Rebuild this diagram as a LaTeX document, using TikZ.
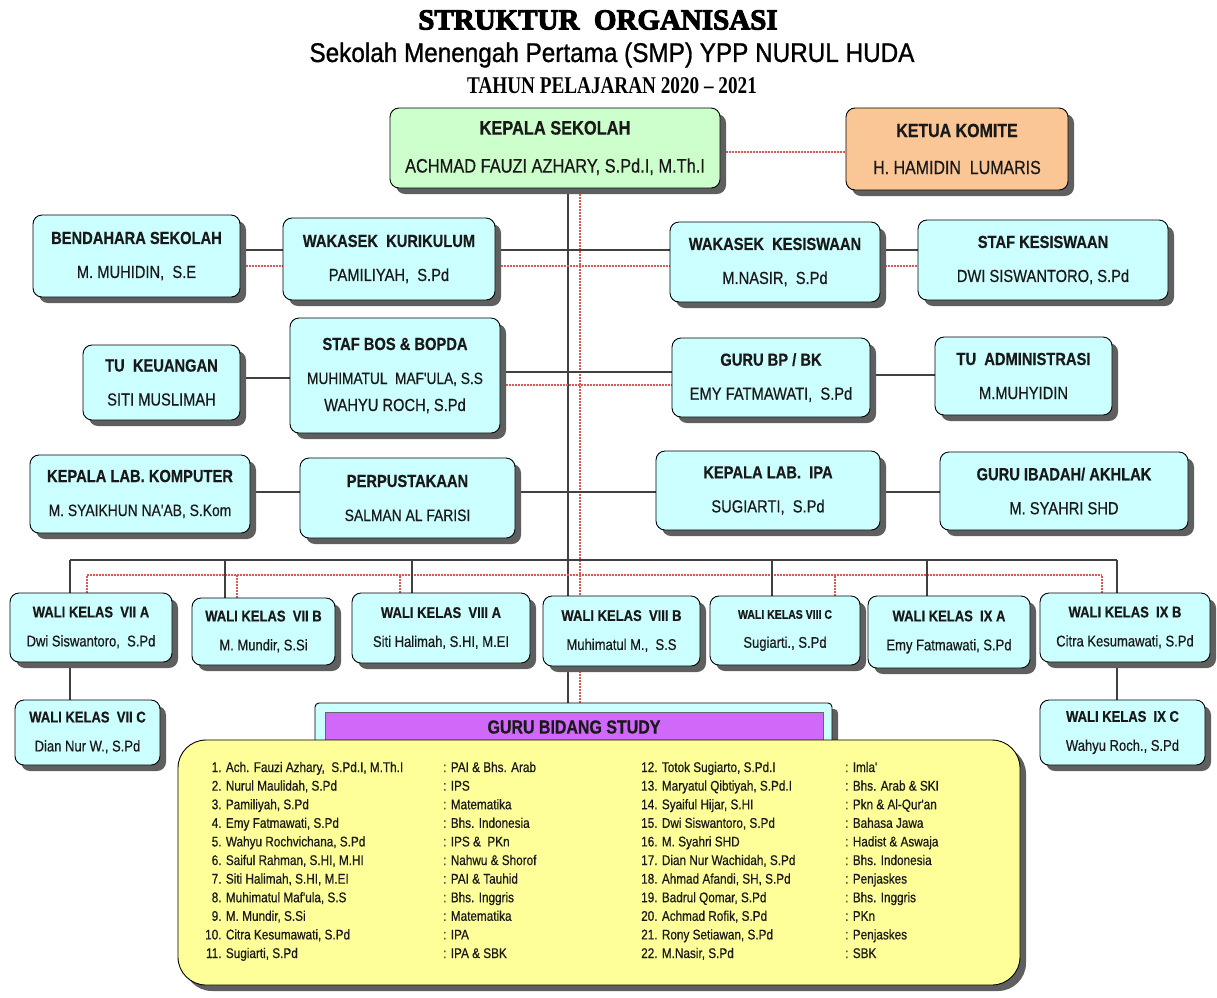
\documentclass[tikz,border=0pt]{standalone}
\usepackage{fontspec}
\setmainfont{Liberation Sans}
\newfontfamily\nar[FakeStretch=0.84,FakeBold=0.5]{Liberation Sans}
\newfontfamily\narw[FakeStretch=0.9,FakeBold=1]{Liberation Sans}
\newfontfamily\ttla[FakeBold=3.5]{Liberation Serif}
\newfontfamily\ttlc[FakeStretch=0.8]{Liberation Serif}
\usetikzlibrary{shadows,backgrounds}
\definecolor{boxcyan}{RGB}{204,255,255}
\definecolor{boxgreen}{RGB}{204,255,204}
\definecolor{boxorange}{RGB}{250,198,150}
\definecolor{barpurple}{RGB}{208,104,250}
\definecolor{listyellow}{RGB}{255,255,153}
\definecolor{redline}{RGB}{215,90,90}
\definecolor{shadowgray}{RGB}{95,95,95}
\begin{document}
\begin{tikzpicture}[x=1pt,y=-1pt,
  blk/.style={draw=black!75, line width=1.3pt},
  rdot/.style={draw=redline, line width=1.2pt, dash pattern=on 1.5pt off 1.5pt},
  shad/.style={drop shadow={shadow xshift=6pt,shadow yshift=-6pt,fill=shadowgray,opacity=1}},
  box/.style={shad, draw=black, line width=0.9pt, rounded corners=9pt, fill=boxcyan, align=center, inner sep=0pt, text=black!90, font=\nar\fontsize{17.5}{34}\selectfont},
  wbox/.style={box, font=\nar\fontsize{15.5}{29}\selectfont},
  sz/.style 2 args={minimum width=#1pt,minimum height=#2pt},
  listtxt/.style={anchor=base west, inner sep=0pt, text=black!90, font=\nar\fontsize{14}{18.6}\selectfont}]
\useasboundingbox (0,0) rectangle (1217,997);

% titles
\node[font=\ttla\bfseries\fontsize{29}{32}\selectfont] (t1) at (598,20) {STRUKTUR\ \ ORGANISASI};
\node[font=\narw\fontsize{27}{30}\selectfont] (t2) at (612,55) {Sekolah Menengah Pertama (SMP) YPP NURUL HUDA};
\node[font=\ttlc\bfseries\fontsize{24}{26}\selectfont] (t3) at (612,86) {TAHUN PELAJARAN 2020 – 2021};

% top
\node[box, sz={330}{80}, fill=boxgreen, font=\nar\fontsize{19.5}{38}\selectfont] (kepala) at (555,148) {\textbf{KEPALA SEKOLAH}\\ACHMAD FAUZI AZHARY,\ S.Pd.I,\ M.Th.I};
\node[box, sz={222}{82}, fill=boxorange, font=\nar\fontsize{19}{37}\selectfont] (komite) at (957,149) {\textbf{KETUA KOMITE}\\H. HAMIDIN\ \ LUMARIS};

% row 1
\node[box, sz={207}{82}] (bend) at (136.5,256) {\textbf{BENDAHARA SEKOLAH}\\M. MUHIDIN,\ \ S.E};
\node[box, sz={212}{82}] (kur) at (389,259) {\textbf{WAKASEK\ \ KURIKULUM}\\PAMILIYAH,\ \ S.Pd};
\node[box, sz={210}{80}] (kes) at (775,262) {\textbf{WAKASEK\ \ KESISWAAN}\\M.NASIR,\ \ S.Pd};
\node[box, sz={250}{80}] (staf) at (1043,260) {\textbf{STAF KESISWAAN}\\DWI SISWANTORO, S.Pd};

% row 2
\node[box, sz={157}{75}] (tukeu) at (161.5,382.5) {\textbf{TU\ \ KEUANGAN}\\SITI\ MUSLIMAH};
\node[box, sz={210}{115}] (bos) at (395,375.5) {\textbf{STAF BOS \& BOPDA}\\{\fontsize{16.3}{34}\selectfont MUHIMATUL\ \ MAF'ULA, S.S}\\[-7pt]WAHYU ROCH, S.Pd};
\node[box, sz={198}{79}] (bp) at (771,377.5) {\textbf{GURU BP / BK}\\EMY FATMAWATI,\ \ S.Pd};
\node[box, sz={177}{78}] (tuadm) at (1023.5,376) {\textbf{TU\ \ ADMINISTRASI}\\M.MUHYIDIN};

% row 3
\node[box, sz={220}{78}] (labkom) at (140,494) {\textbf{KEPALA LAB.\ KOMPUTER}\\{\fontsize{16.5}{34}\selectfont M.\ SYAIKHUN\ NA'AB,\ S.Kom}};
\node[box, sz={215}{80}] (perpus) at (407.5,498) {\textbf{PERPUSTAKAAN}\\{\fontsize{16.5}{34}\selectfont SALMAN AL FARISI}};
\node[box, sz={224}{79}] (labipa) at (768,490.5) {\textbf{KEPALA LAB.\ \ IPA}\\SUGIARTI,\ \ S.Pd};
\node[box, sz={248}{78}] (ibadah) at (1064,491) {\textbf{GURU IBADAH/ AKHLAK}\\M.\ SYAHRI SHD};

% wali kelas
\node[wbox, sz={162}{69}] (w7a) at (91,627.5) {\textbf{WALI KELAS\ \ VII A}\\Dwi\ Siswantoro,\ \ S.Pd};
\node[wbox, sz={143}{67}] (w7b) at (263.5,631.5) {\textbf{WALI KELAS\ \ VII B}\\M.\ Mundir,\ S.Si};
\node[wbox, sz={178}{70}] (w8a) at (441,628) {\textbf{WALI KELAS\ \ VIII A}\\Siti Halimah, S.HI, M.EI};
\node[wbox, sz={157}{70}] (w8b) at (621.5,631) {\textbf{WALI KELAS\ \ VIII B}\\Muhimatul M.,\ \ S.S};
\node[wbox, sz={150}{69}] (w8c) at (785,630.5) {{\fontsize{12.5}{29}\selectfont\textbf{WALI KELAS VIII C}}\\Sugiarti., S.Pd};
\node[wbox, sz={162}{72}] (w9a) at (949,632) {\textbf{WALI KELAS\ \ IX A}\\Emy Fatmawati, S.Pd};
\node[wbox, sz={170}{69}] (w9b) at (1125,627.5) {\textbf{WALI KELAS\ \ IX B}\\Citra Kesumawati, S.Pd};
\node[wbox, sz={145}{65}] (w7c) at (87.5,732.5) {\textbf{WALI KELAS\ \ VII C}\\Dian Nur W., S.Pd};
\node[wbox, sz={165}{65}] (w9c) at (1122.5,732.5) {\textbf{WALI KELAS\ \ IX C}\\Wahyu Roch., S.Pd};

% guru bidang study
\node[box, sz={517}{59}, rounded corners=4pt] (gbs) at (573.5,732.5) {};
\node[draw=black!60, line width=0.5pt, fill=barpurple, sz={498}{30}, inner sep=0pt, text=black!90, font=\nar\bfseries\fontsize{19}{22}\selectfont] (gbsbar) at (574,727) {GURU BIDANG STUDY};
\node[box, sz={842}{245}, rounded corners=28pt, fill=listyellow] (list) at (599,862.5) {};

\node[listtxt] (namesL) at (205,772) {\begin{tabular}[t]{@{}r@{ }l@{}}
1.&Ach. Fauzi Azhary,\ \ S.Pd.I, M.Th.I\\
2.&Nurul Maulidah, S.Pd\\
3.&Pamiliyah, S.Pd\\
4.&Emy Fatmawati, S.Pd\\
5.&Wahyu Rochvichana, S.Pd\\
6.&Saiful Rahman, S.HI, M.HI\\
7.&Siti Halimah, S.HI, M.EI\\
8.&Muhimatul Maf'ula, S.S\\
9.&M. Mundir, S.Si\\
10.&Citra Kesumawati, S.Pd\\
11.&Sugiarti, S.Pd
\end{tabular}};
\node[listtxt] (subjL) at (443,772) {\begin{tabular}[t]{@{}l@{}}
: PAI \& Bhs. Arab\\
: IPS\\
: Matematika\\
: Bhs. Indonesia\\
: IPS \&\ \ PKn\\
: Nahwu \& Shorof\\
: PAI \& Tauhid\\
: Bhs. Inggris\\
: Matematika\\
: IPA\\
: IPA \& SBK
\end{tabular}};
\node[listtxt] (namesR) at (641,772) {\begin{tabular}[t]{@{}r@{ }l@{}}
12.&Totok Sugiarto, S.Pd.I\\
13.&Maryatul\ Qibtiyah,\ S.Pd.I\\
14.&Syaiful Hijar, S.HI\\
15.&Dwi Siswantoro, S.Pd\\
16.&M.\ Syahri SHD\\
17.&Dian Nur Wachidah, S.Pd\\
18.&Ahmad Afandi, SH, S.Pd\\
19.&Badrul Qomar, S.Pd\\
20.&Achmad Rofik, S.Pd\\
21.&Rony Setiawan, S.Pd\\
22.&M.Nasir, S.Pd
\end{tabular}};
\node[listtxt] (subjR) at (845,772) {\begin{tabular}[t]{@{}l@{}}
: Imla'\\
: Bhs. Arab \& SKI\\
: Pkn \& Al-Qur'an\\
: Bahasa Jawa\\
: Hadist \& Aswaja\\
: Bhs. Indonesia\\
: Penjaskes\\
: Bhs. Inggris\\
: PKn\\
: Penjaskes\\
: SBK
\end{tabular}};

% connectors
\begin{scope}[on background layer]
\fill[white] (0,0) rectangle (1217,997);
\coordinate (y1k) at (0,250);
\coordinate (y1r) at (0,266);
\coordinate (y2a) at (0,378);
\coordinate (y2b) at (0,372);
\coordinate (y2c) at (0,375);
\coordinate (y2r) at (0,385);
\coordinate (y3k) at (0,492);
\coordinate (busk) at (0,560);
\coordinate (busr) at (0,575);
\coordinate (ykr) at (0,152);
% main vertical
\draw[blk] ([xshift=13]kepala.south) -- ([xshift=13]kepala.south |- gbs.north);
\draw[rdot] ([xshift=25]kepala.south) -- ([xshift=25]kepala.south |- gbs.north);
\draw[rdot] (kepala.east |- ykr) -- (komite.west |- ykr);
% row 1
\draw[blk] (bend.east |- y1k) -- (staf.west |- y1k);
\draw[rdot] (bend.east |- y1r) -- (kur.west |- y1r);
\draw[rdot] (kur.east |- y1r) -- (staf.west |- y1r);
% row 2
\draw[blk] (tukeu.east |- y2a) -- (bos.west |- y2a);
\draw[blk] (bos.east |- y2b) -- (bp.west |- y2b);
\draw[blk] (bp.east |- y2c) -- (tuadm.west |- y2c);
\draw[rdot] (bos.east |- y2r) -- (bp.west |- y2r);
% row 3
\draw[blk] (labkom.east |- y3k) -- (ibadah.west |- y3k);
% bus
\draw[blk] ([xshift=-21]w7a.north |- busk) -- ([xshift=-8]w9b.north |- busk);
\draw[rdot] ([xshift=-4]w7a.north |- busr) -- ([xshift=-23]w9b.north |- busr);
\draw[blk] ([xshift=-21]w7a.north) -- ([xshift=-21]w7a.north |- busk);
\draw[blk] ([xshift=-38.5]w7b.north) -- ([xshift=-38.5]w7b.north |- busk);
\draw[blk] ([xshift=-29]w8a.north) -- ([xshift=-29]w8a.north |- busk);
\draw[blk] ([xshift=-13]w8c.north) -- ([xshift=-13]w8c.north |- busk);
\draw[blk] ([xshift=-22]w9a.north) -- ([xshift=-22]w9a.north |- busk);
\draw[blk] ([xshift=-8]w9b.north) -- ([xshift=-8]w9b.north |- busk);
\draw[rdot] ([xshift=-4]w7a.north) -- ([xshift=-4]w7a.north |- busr);
\draw[rdot] ([xshift=-26.5]w7b.north) -- ([xshift=-26.5]w7b.north |- busr);
\draw[rdot] ([xshift=-41]w8a.north) -- ([xshift=-41]w8a.north |- busr);
\draw[rdot] ([xshift=50]w8c.north) -- ([xshift=50]w8c.north |- busr);
\draw[rdot] ([xshift=-23]w9b.north) -- ([xshift=-23]w9b.north |- busr);
% sub classes
\draw[blk] ([xshift=-21]w7a.south) -- ([xshift=-21]w7a.south |- w7c.north);
\draw[blk] ([xshift=-8]w9b.south) -- ([xshift=-8]w9b.south |- w9c.north);
\end{scope}
\end{tikzpicture}
\end{document}
